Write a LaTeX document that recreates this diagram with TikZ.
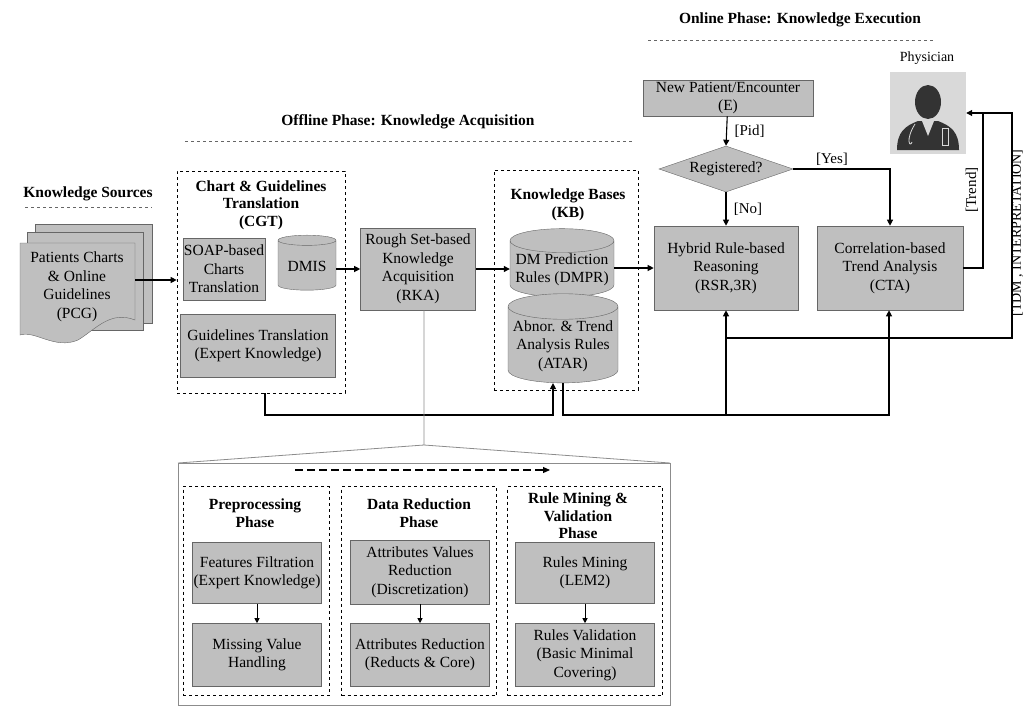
\documentclass[tikz,border=0pt]{standalone}
\usepackage{fontspec}
\setmainfont{Liberation Serif}
\usetikzlibrary{shapes.geometric,arrows.meta}
\begin{document}
\begin{tikzpicture}[x=1pt,y=-1pt,
  txt/.style={font=\fontsize{15.5}{18.5}\selectfont,align=center},
  ttl/.style={font=\bfseries\fontsize{15.5}{17.5}\selectfont,align=center},
  box/.style={draw=black!60,fill=black!25,line width=0.6pt,txt,inner sep=1pt},
  grp/.style={draw,dashed,line width=0.7pt},
  cyl/.style={cylinder,shape border rotate=90,aspect=0.25,draw=black!60,fill=black!25,txt,inner sep=1pt},
  arr/.style={-{Triangle[length=6pt,width=6pt]},line width=1.1pt},
  ln/.style={line width=1.1pt},
  lab/.style={font=\fontsize{15}{16}\selectfont}]
\useasboundingbox (0,0) rectangle (1024,712);
% titles
\node[ttl] (ton) at (800,20) {Online Phase: Knowledge Execution};
\draw[dashed,black!60] (648,40) -- (935,40);
\node[ttl] (toff) at (408,122) {Offline Phase: Knowledge Acquisition};
\draw[dashed,black!60] (185,141) -- (632,141);
\node[ttl] (tks) at (88,194) {Knowledge Sources};
\draw[dashed,black!60] (25,207) -- (152,207);
% documents
\draw[draw=black!60,fill=black!25] (35,224) rectangle (152,323);
\draw[draw=black!60,fill=black!25] (27,232) rectangle (143,330);
\draw[draw=black!60,fill=black!25] (20,243) -- (135,243) -- (135,320) .. controls (110,310) and (95,330) .. (78,340) .. controls (55,350) and (35,330) .. (20,335) -- cycle;
\node[txt] (pcg) at (77,287) {Patients Charts\\\& Online\\Guidelines\\(PCG)};
\coordinate (pcgr) at (135,280);
% CGT
\node[grp,minimum width=168,minimum height=222] (cgt) at (261,282) {};
\node[ttl] (cgtt) at (261,205) {Chart \& Guidelines\\Translation\\(CGT)};
\node[box,minimum width=82,minimum height=62] (soap) at (224,269) {SOAP-based\\Charts\\Translation};
\node[cyl,minimum width=58,minimum height=55] (dmis) at (307,266) {DMIS};
\node[box,minimum width=155,minimum height=63] (gt) at (258,346) {Guidelines Translation\\(Expert Knowledge)};
% RKA
\node[box,minimum width=115,minimum height=82] (rka) at (418,269) {Rough Set-based\\Knowledge\\Acquisition\\(RKA)};
% KB
\node[grp,minimum width=144,minimum height=220] (kb) at (566,280) {};
\node[ttl] (kbt) at (568,205) {Knowledge Bases\\(KB)};
\node[cyl,minimum width=104,minimum height=67] (dmpr) at (562,270) {DM Prediction\\Rules (DMPR)};
\node[cyl,minimum width=110,minimum height=78] (atar) at (563,346) {Abnor. \& Trend\\Analysis Rules\\(ATAR)};
% online
\node[box,minimum width=170,minimum height=36] (e) at (728,98) {New Patient/Encounter\\(E)};
\node[diamond,draw=black!60,fill=black!25,aspect=2.9,minimum width=134,minimum height=46,inner sep=0pt,txt] (reg) at (726,169) {Registered?};
\node[box,minimum width=144,minimum height=84] (rsr) at (726,268) {Hybrid Rule-based\\Reasoning\\(RSR,3R)};
\node[box,minimum width=146,minimum height=84] (cta) at (890,268) {Correlation-based\\Trend Analysis\\(CTA)};
\node[txt,font=\fontsize{14}{15}\selectfont] (phl) at (927,58) {Physician};
\node[fill=black!15,minimum width=76,minimum height=82,inner sep=0] (ph) at (928,113) {};
\fill[black!80] (928,102) ellipse (13 and 17);
\fill[black!80] (897,150) .. controls (897,132) and (905,126) .. (918,121) -- (938,121) .. controls (951,126) and (959,132) .. (959,150) -- cycle;
\fill[black!15] (922,121) -- (928,136) -- (934,121) -- cycle;
\draw[black!15,line width=0.8pt] (915,124) .. controls (905,140) and (910,148) .. (912,142);
\draw[black!15,line width=0.8pt] (942,128) rectangle (948,145);
% arrows
\draw[arr] (pcgr) -- (cgt.west |- pcgr);
\draw[arr] (dmis.east |- rka.west) -- (rka.west);
\draw[arr] (rka.east) -- (dmpr.west |- rka.east);
\draw[arr] (dmpr.east |- rsr.west) -- (rsr.west);
\draw[arr] (e) -- node[lab,right=4pt] {[Pid]} (reg.north);
\draw[arr] (reg.south) -- node[lab,right=4pt] {[No]} (rsr.north);
\draw[arr] (reg.east) -- node[lab,above,pos=0.4] {[Yes]} (cta.north |- reg.east) -- (cta.north);
\coordinate (c1) at (983,268);
\coordinate (c2) at (983,113);
\draw[arr] (cta.east) -- (c1) -- (c2) -- (ph.east |- c2);
\node[lab,rotate=90] (trl) at (972,190) {[Trend]};
\coordinate (t1) at (726,338);
\coordinate (t2) at (1012,338);
\coordinate (t3) at (1012,113);
\draw[ln] (t1) -- (t2) -- (t3) -- (c2);
\node[lab,font=\fontsize{14}{15}\selectfont,rotate=90,inner sep=0] (tdm) at (1017,233) {[TDM , INTERPRETATION]};
\coordinate (b1) at (265,415);
\coordinate (b2) at (553,415);
\draw[arr] (cgt.south -| b1) -- (b1) -- (b2) -- (atar.south -| b2);
\coordinate (b3) at (563,415);
\coordinate (b4) at (889,415);
\draw[arr] (atar.south -| b3) -- (b3) -- (b4) -- (cta.south -| b4);
\draw[arr] (726,415) -- (rsr.south);
% callout
\coordinate (k1) at (424,445);
\draw[black!45,line width=0.8pt] (rka.south -| k1) -- (k1) -- (178,463);
\draw[black!45,line width=0.8pt] (k1) -- (670,463);
\node[draw=black!45,line width=0.8pt,minimum width=492,minimum height=242,inner sep=0] (big) at (424,584) {};
\draw[-{Triangle[length=7pt,width=6pt]},dashed,line width=1.1pt,dash pattern=on 8pt off 4pt] (295,470) -- (550,470);
\node[grp,minimum width=146,minimum height=209] (p1) at (256,591) {};
\node[grp,minimum width=155,minimum height=209] (p2) at (419,591) {};
\node[grp,minimum width=155,minimum height=209] (p3) at (585,591) {};
\node[ttl] (p1t) at (255,513) {Preprocessing\\Phase};
\node[ttl] (p2t) at (419,513) {Data Reduction\\Phase};
\node[ttl] (p3t) at (578,516) {Rule Mining \&\\Validation\\Phase};
\node[box,minimum width=129,minimum height=61] (ff) at (257,573) {Features Filtration\\(Expert Knowledge)};
\node[box,minimum width=129,minimum height=63] (mv) at (257,655) {Missing Value\\Handling};
\node[box,minimum width=139,minimum height=64] (avr) at (420,572) {Attributes Values\\Reduction\\(Discretization)};
\node[box,minimum width=139,minimum height=63] (ar) at (420,655) {Attributes Reduction\\(Reducts \& Core)};
\node[box,minimum width=139,minimum height=61] (rm) at (585,573) {Rules Mining\\(LEM2)};
\node[box,minimum width=139,minimum height=63] (rv) at (585,655) {Rules Validation\\(Basic Minimal\\Covering)};
\draw[-{Triangle[length=5pt,width=5pt]},line width=1pt] (ff) -- (mv);
\draw[-{Triangle[length=5pt,width=5pt]},line width=1pt] (avr) -- (ar);
\draw[-{Triangle[length=5pt,width=5pt]},line width=1pt] (rm) -- (rv);
\end{tikzpicture}
\end{document}
